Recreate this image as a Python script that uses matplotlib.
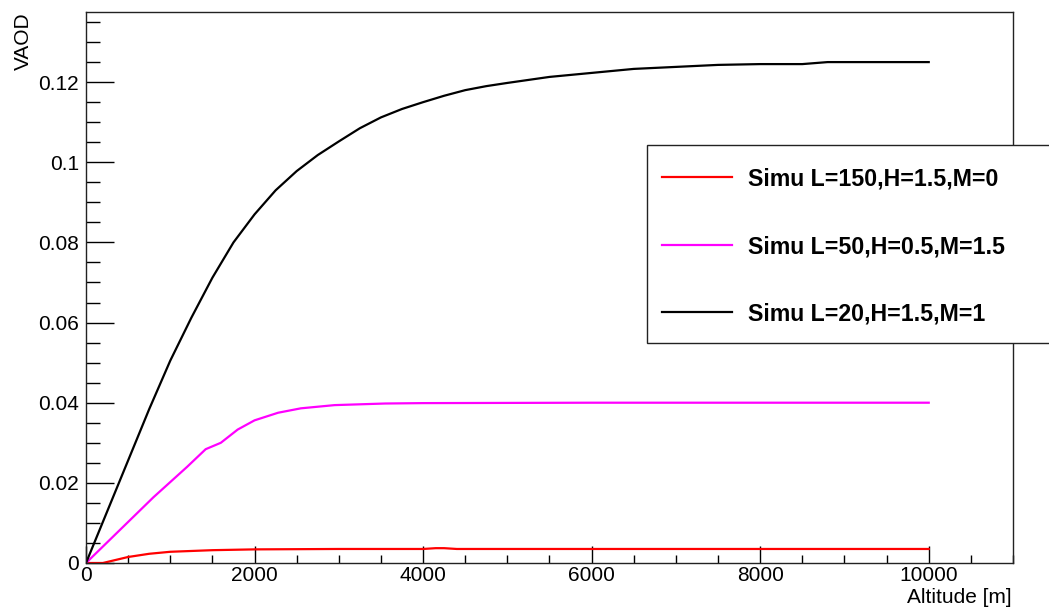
import matplotlib
matplotlib.use("Agg")
import matplotlib.pyplot as plt
from matplotlib.ticker import MultipleLocator, FuncFormatter
from matplotlib.patches import Rectangle

plt.rcParams['font.family'] = ['Liberation Sans', 'DejaVu Sans']

# ---- data ----
alt_black = [0, 250, 500, 750, 1000, 1250, 1500, 1750, 2000, 2250, 2500, 2750, 3000, 3250,
             3500, 3750, 4000, 4250, 4500, 4750, 5000, 5500, 6000, 6500, 7000, 7500, 8000,
             8500, 8800, 9000, 9500, 10000]
vaod_black = [0.0, 0.0128, 0.0256, 0.0384, 0.0505, 0.0612, 0.0712, 0.0800, 0.0870, 0.0930,
              0.0978, 0.1018, 0.1052, 0.1085, 0.1112, 0.1133, 0.1150, 0.1166, 0.1180, 0.1190,
              0.1198, 0.1213, 0.1223, 0.1233, 0.1238, 0.1243, 0.1245, 0.1245, 0.1250, 0.1250,
              0.1250, 0.1250]

alt_magenta = [0, 400, 800, 1200, 1420, 1600, 1800, 2000, 2280, 2550, 2950, 3550, 4000, 6000, 8000, 10000]
vaod_magenta = [0.0, 0.0082, 0.0164, 0.0240, 0.0284, 0.0300, 0.0333, 0.0356, 0.0375, 0.0386,
                0.0394, 0.0398, 0.0399, 0.0400, 0.0400, 0.0400]

alt_red = [0, 200, 300, 500, 750, 1000, 1500, 2000, 3000, 4000, 4150, 4250, 4400, 6000, 8000, 10000]
vaod_red = [0.0, 0.0, 0.0005, 0.0015, 0.0023, 0.0028, 0.0032, 0.0034, 0.0035, 0.0035,
            0.0037, 0.0037, 0.0035, 0.0035, 0.0035, 0.0035]

labels = ["Simu L=150,H=1.5,M=0", "Simu L=50,H=0.5,M=1.5", "Simu L=20,H=1.5,M=1"]
colors = ["#ff0000", "#ff00ff", "#000000"]

W, H = 1049, 615
fig = plt.figure(figsize=(W / 100, H / 100), dpi=100)
ax = fig.add_axes([86 / W, (H - 563) / H, 927 / W, 551 / H])

l1, = ax.plot(alt_red, vaod_red, color=colors[0], lw=1.6, label=labels[0])
l2, = ax.plot(alt_magenta, vaod_magenta, color=colors[1], lw=1.6, label=labels[1])
l3, = ax.plot(alt_black, vaod_black, color=colors[2], lw=1.6, label=labels[2])

ax.set_xlim(0, 11000)
ax.set_ylim(0, 0.1375)

ax.xaxis.set_major_locator(MultipleLocator(2000))
ax.xaxis.set_minor_locator(MultipleLocator(500))
ax.yaxis.set_major_locator(MultipleLocator(0.02))
ax.yaxis.set_minor_locator(MultipleLocator(0.005))

def yfmt(v, pos):
    if abs(v) < 1e-12:
        return "0"
    return f"{v:.2f}".rstrip("0")
ax.yaxis.set_major_formatter(FuncFormatter(yfmt))
ax.xaxis.set_major_formatter(FuncFormatter(lambda v, p: f"{int(round(v))}"))

ax.tick_params(axis='x', which='major', direction='in', length=12, width=1, labelsize=15, pad=2,
               top=False)
ax.tick_params(axis='x', which='minor', direction='in', length=6, width=1, top=False)
ax.tick_params(axis='y', which='major', direction='in', length=20, width=1, labelsize=15, pad=5,
               right=False)
ax.tick_params(axis='y', which='minor', direction='in', length=10, width=1, right=False)

for sp in ax.spines.values():
    sp.set_linewidth(1.0)
    sp.set_color("#222222")

ax.set_xlabel("Altitude [m]", fontsize=15, ha='right', va='top')
ax.xaxis.set_label_coords(0.9985, -0.046)
ax.set_ylabel("VAOD", fontsize=15, ha='right', va='center')
ax.yaxis.set_label_coords(-0.068, 1.0)

# legend box (white, drawn over the right spine, running off the figure edge)
box = Rectangle((647 / W, 1 - 343 / H), 500 / W, 198 / H, transform=fig.transFigure,
                facecolor='white', edgecolor='#222222', lw=1.0, zorder=10, clip_on=False)
ax.add_patch(box)

leg = ax.legend(handles=[l1, l2, l3], loc='upper left',
                bbox_to_anchor=(662 / W, 1 - 167.5 / H),
                bbox_transform=fig.transFigure, borderaxespad=0,
                prop={'weight': 'bold', 'size': 16.7}, frameon=False,
                handlelength=3.02, handletextpad=0.69, labelspacing=1.92, borderpad=0)
leg.set_zorder(11)
for h in leg.get_lines():
    h.set_linewidth(1.6)

fig.savefig("out.png", dpi=100)
